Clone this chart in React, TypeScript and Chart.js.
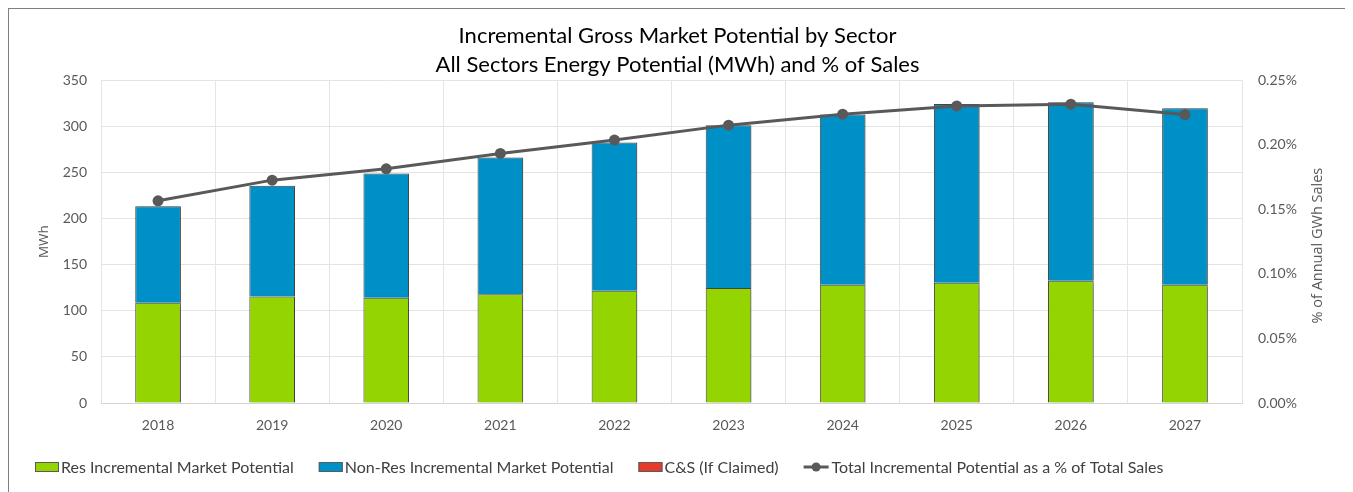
import React, { useEffect, useRef } from "react";
import { Chart, registerables } from "chart.js";

Chart.register(...registerables);

const years = ["2018", "2019", "2020", "2021", "2022", "2023", "2024", "2025", "2026", "2027"];
const resPotential = [108.7, 115.5, 114.2, 117.8, 121.7, 124.6, 128.2, 130.3, 132.5, 128.2];
const nonResPotential = [104.7, 120.0, 134.6, 148.4, 160.7, 176.6, 184.6, 194.0, 193.5, 191.4];
const csPotential = [0, 0, 0, 0, 0, 0, 0, 0, 0, 0];
const pctOfSales = [0.1566, 0.1726, 0.1814, 0.1933, 0.2036, 0.2152, 0.2237, 0.2301, 0.2314, 0.2234];

const titleLines = [
  "Incremental Gross Market Potential by Sector",
  "All Sectors Energy Potential (MWh) and % of Sales",
];
const seriesLabels = [
  "Res Incremental Market Potential",
  "Non-Res Incremental Market Potential",
  "C&S (If Claimed)",
  "Total Incremental Potential as a % of Total Sales",
];
const leftAxisTitle = "MWh";
const rightAxisTitle = "% of Annual GWh Sales";

const GREEN = "#94d400";
const BLUE = "#0090c8";
const RED = "#e33b2e";
const LINE = "#595959";
const TEXT = "#595959";
const FONT = "Lato, 'Open Sans', sans-serif";
const AXIS_FONT = "'Open Sans', sans-serif";

const legendPlugin = {
  id: "customLegend",
  afterDraw(chart: any) {
    const ctx = chart.ctx as CanvasRenderingContext2D;
    const y = 458;
    let x = 26;
    ctx.save();
    ctx.font = `16px ${FONT}`;
    ctx.textBaseline = "middle";
    ctx.textAlign = "left";
    chart.data.datasets.forEach((ds: any) => {
      if (ds.type === "line") {
        ctx.strokeStyle = LINE;
        ctx.lineWidth = 3;
        ctx.beginPath();
        ctx.moveTo(x, y);
        ctx.lineTo(x + 25, y);
        ctx.stroke();
        ctx.fillStyle = LINE;
        ctx.beginPath();
        ctx.arc(x + 12.5, y, 4.5, 0, Math.PI * 2);
        ctx.fill();
        x += 28;
      } else {
        ctx.fillStyle = ds.backgroundColor;
        ctx.fillRect(x, y - 5, 24, 10);
        ctx.strokeStyle = "#5a5a5a";
        ctx.lineWidth = 1;
        ctx.strokeRect(x + 0.5, y - 4.5, 23, 9);
        x += 26;
      }
      ctx.fillStyle = "#404040";
      ctx.fillText(ds.label, x, y + 1);
      x += ctx.measureText(ds.label).width + 25;
    });

    // right axis title, reading bottom to top
    const area = chart.chartArea;
    ctx.save();
    ctx.translate(1309, (area.top + area.bottom) / 2 + 4);
    ctx.rotate(-Math.PI / 2);
    ctx.font = `14.5px ${AXIS_FONT}`;
    ctx.fillStyle = TEXT;
    ctx.textAlign = "center";
    ctx.textBaseline = "middle";
    ctx.fillText(rightAxisTitle, 0, 0);
    ctx.restore();
    ctx.restore();
  },
};

const shadowPlugin = {
  id: "barShadow",
  beforeDatasetDraw(chart: any, args: any) {
    const ds = chart.data.datasets[args.index];
    if (ds.type === "bar") {
      const ctx = chart.ctx;
      ctx.save();
      ctx.shadowColor = "rgba(0,0,0,0.28)";
      ctx.shadowBlur = 3;
      ctx.shadowOffsetX = 2;
      ctx.shadowOffsetY = 1;
    }
  },
  afterDatasetDraw(chart: any, args: any) {
    const ds = chart.data.datasets[args.index];
    if (ds.type === "bar") chart.ctx.restore();
  },
};

export default function App() {
  const ref = useRef<HTMLCanvasElement>(null);
  useEffect(() => {
    document.documentElement.style.overflow = "hidden";
    const chart = new Chart(ref.current!, {
      type: "bar",
      data: {
        labels: years,
        datasets: [
          {
            type: "bar",
            label: seriesLabels[0],
            data: resPotential,
            backgroundColor: GREEN,
            borderColor: "#474747",
            borderWidth: 1,
            yAxisID: "y",
            stack: "s",
            order: 1,
          },
          {
            type: "bar",
            label: seriesLabels[1],
            data: nonResPotential,
            backgroundColor: BLUE,
            borderColor: "#474747",
            borderWidth: 1,
            yAxisID: "y",
            stack: "s",
            order: 1,
          },
          {
            type: "bar",
            label: seriesLabels[2],
            data: csPotential,
            backgroundColor: RED,
            borderWidth: 0,
            yAxisID: "y",
            stack: "s",
            order: 1,
          },
          {
            type: "line",
            label: seriesLabels[3],
            data: pctOfSales,
            borderColor: LINE,
            backgroundColor: LINE,
            borderWidth: 3,
            pointRadius: 5.5,
            pointBackgroundColor: LINE,
            pointBorderColor: LINE,
            pointBorderWidth: 0,
            yAxisID: "y1",
            order: 0,
            tension: 0,
          } as any,
        ],
      },
      options: {
        responsive: false,
        animation: false,
        categoryPercentage: 0.8,
        barPercentage: 0.5,
        layout: { padding: { bottom: 49, left: 0, right: 0, top: 0 } },
        plugins: {
          legend: { display: false },
          tooltip: { enabled: false },
          title: {
            display: true,
            text: titleLines,
            color: "#000000",
            font: { family: FONT, size: 22, weight: "normal", lineHeight: 1.3 },
            padding: { top: 13, bottom: 1 },
          },
        },
        scales: {
          x: {
            stacked: true,
            grid: { color: "#e4e4e4", drawTicks: false, offset: true },
            border: { color: "#d4d4d4" },
            ticks: { color: TEXT, padding: 14, font: { family: FONT, size: 14 } },
            afterFit: (s: any) => {
              s.height = 40;
            },
          },
          y: {
            stacked: true,
            position: "left",
            min: 0,
            max: 350,
            ticks: { stepSize: 50, color: TEXT, padding: 14, font: { family: FONT, size: 14 } },
            grid: { color: "#e4e4e4", drawTicks: false },
            border: { display: false },
            title: {
              display: true,
              text: leftAxisTitle,
              color: TEXT,
              font: { family: AXIS_FONT, size: 13.5 },
              padding: { top: 27, bottom: 0 },
            },
            afterFit: (s: any) => {
              s.width = 92;
            },
          },
          y1: {
            position: "right",
            min: 0,
            max: 0.25,
            ticks: {
              stepSize: 0.05,
              color: TEXT,
              padding: 16,
              font: { family: FONT, size: 14 },
              callback: (v: any) => Number(v).toFixed(2) + "%",
            },
            grid: { display: false, drawTicks: false },
            border: { display: false },
            title: { display: false },
            afterFit: (s: any) => {
              s.width = 104;
            },
          },
        },
      },
      plugins: [shadowPlugin, legendPlugin],
    });
    return () => chart.destroy();
  }, []);

  return (
    <div
      style={{
        width: 1337,
        height: 500,
        border: "1px solid #7f7f7f",
        background: "#ffffff",
      }}
    >
      <canvas ref={ref} width={1337} height={483} style={{ display: "block" }} />
    </div>
  );
}
